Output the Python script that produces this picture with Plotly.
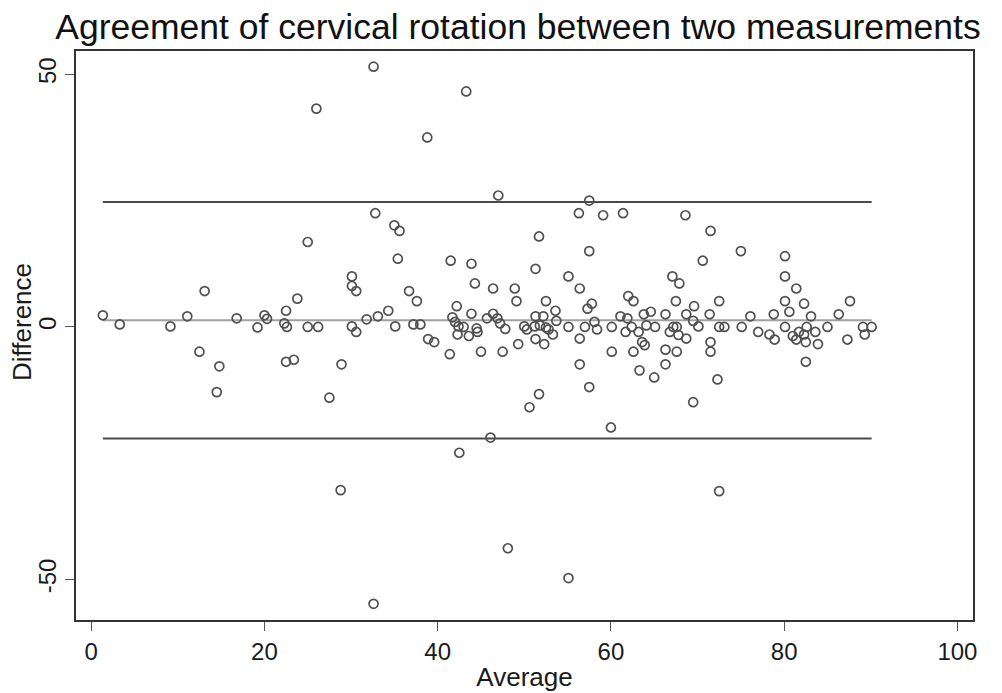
import plotly.graph_objects as go

# Average of the two measurements (x) and their difference (y)
average = [
    1.35, 3.3, 9.15, 11.1, 13.1, 12.5, 14.8, 14.5, 16.8,
    19.2, 20.0, 20.3, 22.5, 22.3, 22.6, 23.8, 25.0, 25.0, 26.2, 22.5, 23.4, 27.5, 28.9,
    30.1, 30.1, 30.6, 30.1, 30.6, 31.8, 33.1, 34.3, 32.8,
    35.0, 35.6, 35.4, 36.7, 37.6, 35.1, 37.2, 38.0, 38.9, 39.6, 41.4, 41.5, 43.9, 44.3,
    46.4, 48.9, 49.1, 42.2, 43.9, 41.7, 42.0, 42.4, 43.0, 42.3, 43.6, 44.5, 44.6, 45.0,
    45.7, 46.4, 46.9, 47.2, 47.8, 47.5, 49.3, 50.0, 50.3, 51.2, 51.3, 51.3, 51.3, 51.7,
    51.7, 50.6, 46.1, 42.5,
    57.5, 56.3, 59.1, 61.4, 68.6, 57.5, 55.1, 56.4, 52.5, 57.8, 57.3, 53.6, 52.2, 53.7,
    51.8, 52.5, 52.8, 53.3, 52.3, 55.1, 56.4, 57.0, 58.1, 58.4, 56.4, 57.5, 60.0, 60.1,
    60.1, 61.1, 62.0, 62.6, 61.9, 61.7, 62.4, 63.2, 62.6, 63.6, 63.9, 63.3, 65.0, 63.8,
    64.6, 64.1, 65.1, 66.3, 66.3, 66.3, 67.1, 67.9, 67.5, 68.7, 66.8, 67.2, 67.6, 67.8,
    67.6, 68.7,
    71.5, 70.6, 75.0, 80.1, 80.1, 81.4, 72.5, 69.6, 69.5, 70.1, 71.4, 71.5, 71.5, 72.3,
    69.5, 72.5, 73.1, 75.1, 76.1, 77.0, 78.3, 78.9, 78.8, 80.1, 80.6, 80.1, 82.3, 83.1,
    81.0, 81.4, 81.7, 82.6, 82.3, 82.5, 83.6, 83.9, 82.5, 85.0, 86.3,
    87.6, 87.3, 89.1, 90.1, 89.3,
    32.6, 26.0, 43.3, 38.8, 47.0, 28.8, 32.6, 48.1, 55.1, 72.5,
]
difference = [
    2.3, 0.5, 0.1, 2.1, 7.1, -4.9, -7.8, -12.9, 1.7,
    -0.1, 2.3, 1.6, 3.2, 0.7, 0.0, 5.6, 16.8, 0.0, 0.0, -6.9, -6.5, -14.0, -7.4,
    10.0, 8.1, 7.1, 0.1, -1.0, 1.5, 2.1, 3.2, 22.5,
    20.1, 19.0, 13.5, 7.1, 5.1, 0.1, 0.5, 0.5, -2.4, -3.0, -5.4, 13.1, 12.5, 8.6,
    7.6, 7.6, 5.1, 4.1, 2.6, 1.9, 1.0, 0.1, 0.0, -1.5, -1.8, -0.3, -1.0, -4.9,
    1.7, 2.6, 1.7, 0.7, -0.4, -4.9, -3.4, 0.1, -0.5, 0.1, -2.4, 2.1, 11.5, 17.9,
    -13.3, -15.9, -21.9, -24.9,
    25.0, 22.5, 22.1, 22.5, 22.1, 15.0, 10.0, 7.6, 5.1, 4.6, 3.6, 3.2, 2.1, 1.2,
    0.3, -0.1, -0.5, -1.5, -3.4, 0.0, -2.3, 0.0, 1.0, -0.5, -7.4, -11.9, -19.9, 0.0,
    -4.9, 2.1, 6.1, 5.1, 1.7, -1.0, 0.0, -1.0, -4.9, -3.0, -3.6, -8.6, -10.0, 2.5,
    3.0, 0.3, 0.0, 2.5, -4.5, -7.4, 10.0, 8.6, 5.1, 2.5, -1.0, 0.0, 0.0, -1.6,
    -4.9, -2.3,
    19.0, 13.1, 15.0, 14.0, 10.0, 7.6, 5.1, 4.1, 1.2, 0.1, 2.5, -3.0, -4.9, -10.4,
    -14.9, 0.0, 0.0, 0.0, 2.1, -1.0, -1.5, -2.5, 2.5, 5.1, 3.0, 0.0, 4.6, 2.1,
    -1.8, -2.5, -1.0, 0.0, -1.5, -3.0, -1.0, -3.4, -6.9, 0.0, 2.5,
    5.1, -2.5, 0.0, 0.0, -1.5,
    51.5, 43.2, 46.6, 37.5, 26.0, -32.3, -54.8, -43.8, -49.7, -32.5,
]

mean_diff = 1.3
upper_loa = 24.7
lower_loa = -22.1

x_ticks = [0, 20, 40, 60, 80, 100]
y_ticks = [-50, 0, 50]

title_text = "Agreement of cervical rotation between two measurements"
x_title = "Average"
y_title = "Difference"

FONT = "Arial, Liberation Sans, sans-serif"

x_lo, x_hi = min(average), max(average)

fig = go.Figure()

for level, col in [(upper_loa, "#4a4a4a"), (lower_loa, "#4a4a4a"), (mean_diff, "#a0a0a0")]:
    fig.add_trace(go.Scatter(
        x=[x_lo, x_hi], y=[level, level], mode="lines",
        line=dict(color=col, width=2), hoverinfo="skip", showlegend=False,
    ))

fig.add_trace(go.Scatter(
    x=average, y=difference, mode="markers",
    marker=dict(symbol="circle-open", size=9, color="#505050", line=dict(width=1.7, color="#505050")),
    showlegend=False,
))

fig.add_annotation(
    text=y_title, textangle=-90, showarrow=False,
    xref="paper", yref="paper", x=(22 - 76) / 897, y=(620 - 322) / 569,
    xanchor="center", yanchor="middle",
    font=dict(size=26, family=FONT, color="#1a1a1a"),
)

fig.update_layout(
    width=1002, height=693,
    margin=dict(l=76, r=29, t=51, b=73, autoexpand=False),
    paper_bgcolor="white", plot_bgcolor="white",
    font=dict(family=FONT, color="#1a1a1a", size=24),
    title=dict(text=title_text, x=518 / 1002, xanchor="center", xref="container",
               y=0.98, yanchor="top", yref="container",
               font=dict(size=35.5, family=FONT, color="#111111")),
    xaxis=dict(
        range=[-1.75, 101.8], tickvals=x_ticks, ticktext=[str(v) for v in x_ticks],
        showgrid=False, zeroline=False, showline=True, mirror=True,
        linecolor="#333333", linewidth=1.6, automargin=False,
        ticks="outside", ticklen=9, tickwidth=1.3, tickcolor="#555555",
        tickfont=dict(size=24, family=FONT),
        title=dict(text=x_title, font=dict(size=26, family=FONT), standoff=4),
    ),
    yaxis=dict(
        range=[-58.0, 54.6], tickvals=y_ticks, ticktext=[str(v) for v in y_ticks],
        showgrid=False, zeroline=False, showline=True, mirror=True,
        linecolor="#333333", linewidth=1.6, automargin=False,
        ticks="outside", ticklen=9, tickwidth=1.3, tickcolor="#555555",
        tickangle=-90,
        tickfont=dict(size=24, family=FONT),
    ),
)

fig.write_html(
    "out.html",
    config={"displayModeBar": False},
    post_script="document.body.style.margin='0';document.body.style.overflow='hidden';",
)
